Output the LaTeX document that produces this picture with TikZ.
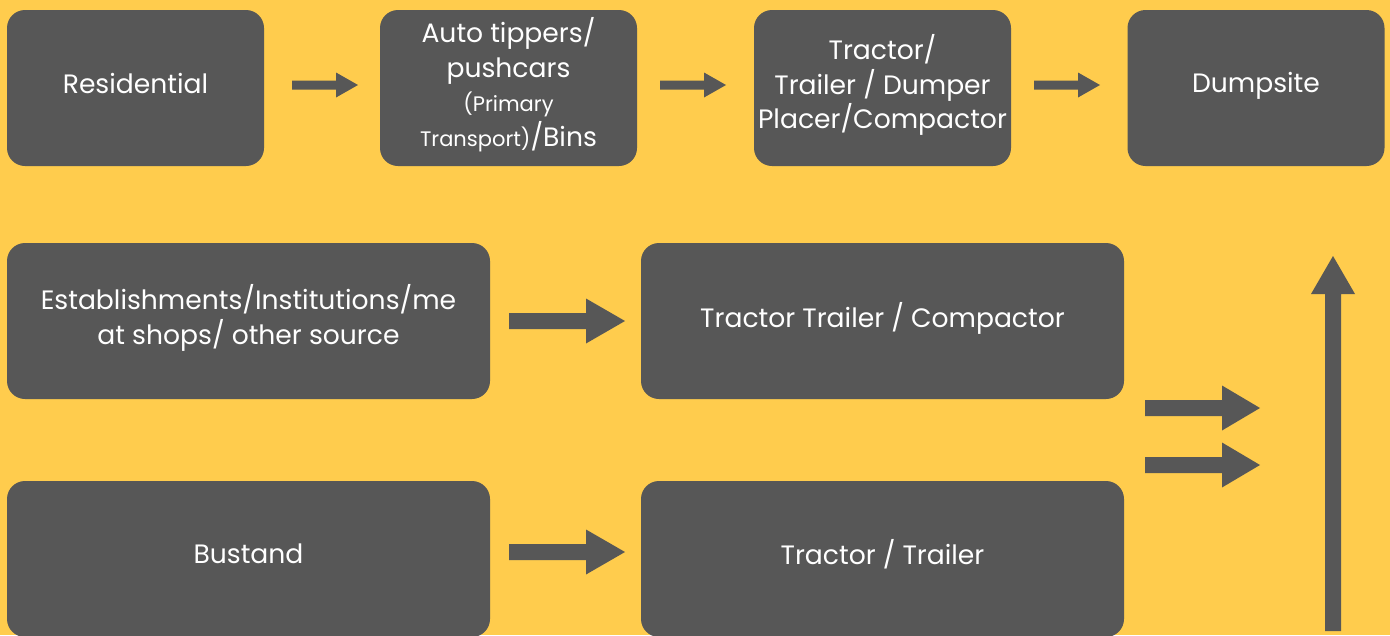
\documentclass[tikz,border=0pt]{standalone}
\usepackage{fontspec}
\setmainfont{Poppins}
\usetikzlibrary{calc}
\definecolor{bgyellow}{HTML}{FFCC4D}
\definecolor{boxgrey}{HTML}{575757}
% right-pointing block arrow: start, tip, half shaft, half head, head length
\newcommand{\rblock}[5]{%
  \fill[boxgrey] let \p1=(#1), \p2=(#2) in
    (\x1,\y1+#3) -- (\x2-#5,\y1+#3) -- (\x2-#5,\y1+#4) -- (\x2,\y1)
    -- (\x2-#5,\y1-#4) -- (\x2-#5,\y1-#3) -- (\x1,\y1-#3) -- cycle;}
% upward block arrow: start (bottom), tip (top), half shaft, half head, head length
\newcommand{\ublock}[5]{%
  \fill[boxgrey] let \p1=(#1), \p2=(#2) in
    (\x1-#3,\y1) -- (\x1-#3,\y2-#5) -- (\x1-#4,\y2-#5) -- (\x1,\y2)
    -- (\x1+#4,\y2-#5) -- (\x1+#3,\y2-#5) -- (\x1+#3,\y1) -- cycle;}
\newcommand{\smalltxt}{\fontsize{21}{34.5}\selectfont}
\begin{document}
\begin{tikzpicture}[x=1pt,y=-1pt,
  box/.style={fill=boxgrey, rounded corners=18pt, inner sep=0pt},
  smallbox/.style={box, minimum width=257pt, minimum height=156pt},
  widebox/.style={box, minimum width=483pt, minimum height=156pt},
  label/.style={inner sep=0pt, text=white, align=center,
    font=\fontsize{26.6}{34.5}\selectfont}]
\useasboundingbox (0,0) rectangle (1390,635);
\fill[bgyellow] (0,0) rectangle (1390,635);

% boxes
\node[smallbox] (res) at (135.5,88) {};
\node[smallbox] (auto) at (508.5,88) {};
\node[smallbox] (tract) at (882.5,88) {};
\node[smallbox] (dump) at (1256,88) {};
\node[widebox] (est) at (248.5,321) {};
\node[widebox] (ttc) at (882.5,321) {};
\node[widebox] (bus) at (248.5,559) {};
\node[widebox] (tt) at (882.5,559) {};

% box texts
\node[label] (res-t) at ($(res)+(0,-5)$) {Residential};
\node[label] (auto-t) at ($(auto)+(0,-3.5)$) {Auto tippers/\\pushcars\\{\smalltxt(Primary}\\{\smalltxt Transport)}/Bins};
\node[label] (tract-t) at ($(tract)+(0,-3)$) {Tractor/\\Trailer / Dumper\\Placer/Compactor};
\node[label] (dump-t) at ($(dump)+(0,-2.5)$) {Dumpsite};
\node[label] (est-t) at ($(est)+(0,-3)$) {Establishments/Institutions/me\\at shops/ other source};
\node[label] (ttc-t) at ($(ttc)+(0,-3)$) {Tractor Trailer / Compactor};
\node[label] (bus-t) at ($(bus)+(0,-5.5)$) {Bustand};
\node[label] (tt-t) at ($(tt)+(0,-4.5)$) {Tractor / Trailer};

% arrow end points
\coordinate (a1s) at (292,85);   \coordinate (a1e) at (358,85);
\coordinate (a2s) at (660,85);   \coordinate (a2e) at (726,85);
\coordinate (a3s) at (1034,85);  \coordinate (a3e) at (1100,85);
\coordinate (b1s) at (509,321);  \coordinate (b1e) at (625,321);
\coordinate (b2s) at (509,552);  \coordinate (b2e) at (625,552);
\coordinate (c1s) at (1145,408); \coordinate (c1e) at (1260,408);
\coordinate (c2s) at (1145,465); \coordinate (c2e) at (1260,465);
\coordinate (ups) at (1333,631); \coordinate (upe) at (1333,256);

\rblock{a1s}{a1e}{4.5pt}{12.5pt}{22pt}
\rblock{a2s}{a2e}{4.5pt}{12.5pt}{22pt}
\rblock{a3s}{a3e}{4.5pt}{12.5pt}{22pt}
\rblock{b1s}{b1e}{8pt}{22.5pt}{39pt}
\rblock{b2s}{b2e}{8pt}{22.5pt}{39pt}
\rblock{c1s}{c1e}{8pt}{22.5pt}{38pt}
\rblock{c2s}{c2e}{8pt}{22.5pt}{38pt}
\ublock{ups}{upe}{8pt}{22pt}{38pt}
\end{tikzpicture}
\end{document}
